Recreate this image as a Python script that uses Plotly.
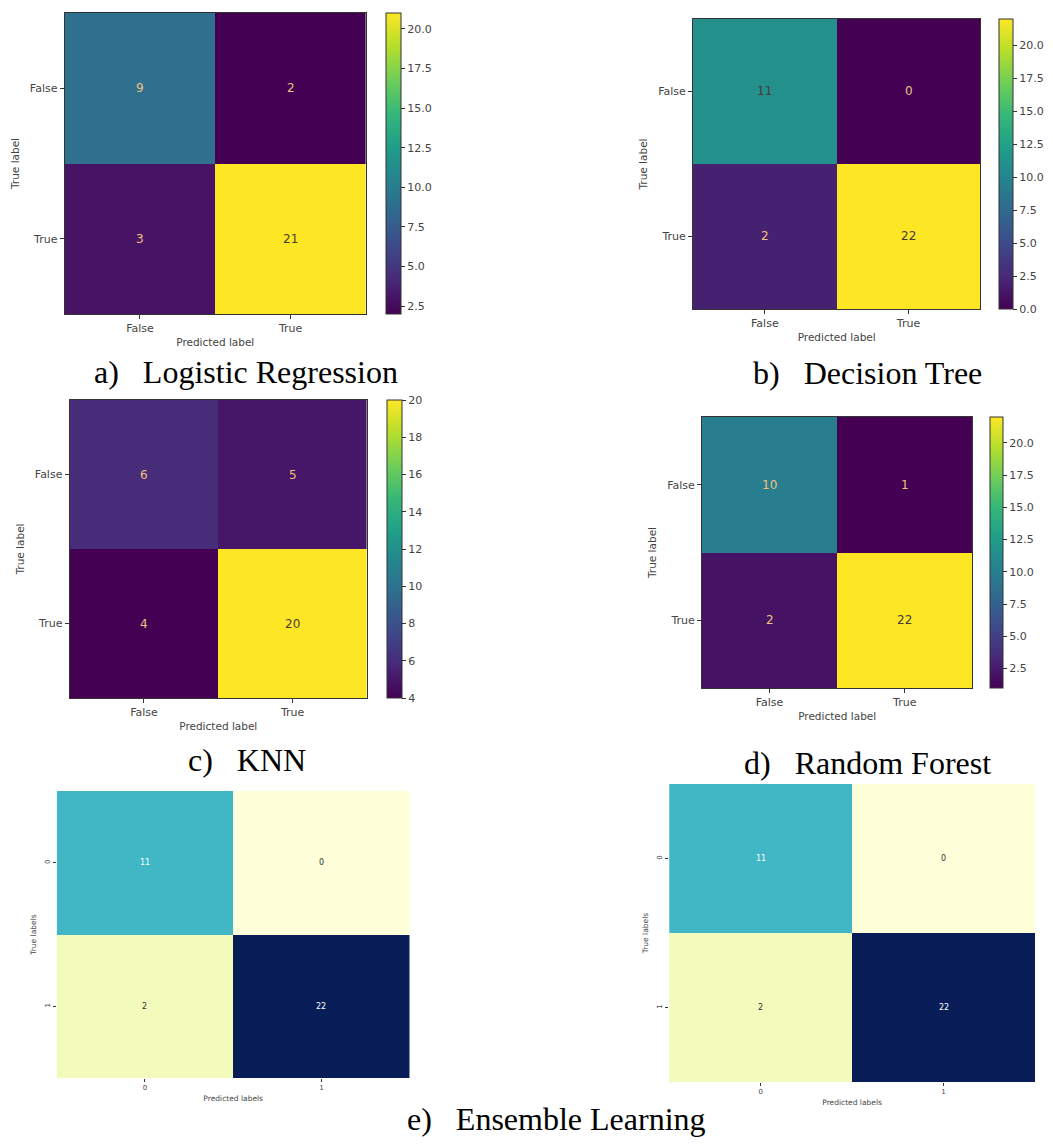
import plotly.graph_objects as go
import plotly.colors as pc

W, H = 1053, 1147          # browser window
OFF = 8                    # default page margin around the plot div
FW, FH = W - 2 * OFF, H - 2 * OFF

# ---------------- data ----------------
labels_tf = ["False", "True"]
labels_01 = ["0", "1"]

cm_logreg = [[9, 2], [3, 21]]
cm_tree = [[11, 0], [2, 22]]
cm_knn = [[6, 5], [4, 20]]
cm_forest = [[10, 1], [2, 22]]
cm_ens_a = [[11, 0], [2, 22]]
cm_ens_b = [[11, 0], [2, 22]]

captions = ["a)\u2002 Logistic Regression", "b)\u2002 Decision Tree",
            "c)\u2002 KNN", "d)\u2002 Random Forest", "e)\u2002 Ensemble Learning"]

# ---------------- layout (pixel boxes in window coordinates) ----------------
panels = [
    dict(z=cm_logreg, kind="skl", hx=(65, 368), hy=(13, 314), cb=(388, 403), dtick=2.5, fmt=".1f"),
    dict(z=cm_tree, kind="skl", hx=(697, 986), hy=(19, 309), cb=(1005, 1019), dtick=2.5, fmt=".1f"),
    dict(z=cm_knn, kind="skl", hx=(70, 369), hy=(400, 698), cb=(389, 404), dtick=2, fmt="d"),
    dict(z=cm_forest, kind="skl", hx=(706, 978), hy=(417, 688), cb=(996, 1009), dtick=2.5, fmt=".1f"),
    dict(z=cm_ens_a, kind="sns", hx=(57, 412), hy=(791, 1078)),
    dict(z=cm_ens_b, kind="sns", hx=(673, 1041), hy=(784, 1082)),
]
# (center x, center y, anchor)
caption_pos = [(247, 372, "middle"), (873, 373, "middle"), (248, 760, "middle"),
               (873, 763, "middle"), (560, H - OFF, "bottom")]


def PX(px):
    return (px - OFF) / FW


def PY(py):
    return 1 - (py - OFF) / FH


viridis = pc.sequential.Viridis
ylgnbu = pc.sequential.YlGnBu

FONT = "DejaVu Sans"
TXT = "#444444"

fig = go.Figure()
layout = dict(width=FW, height=FH, margin=dict(l=0, r=0, t=0, b=0),
              paper_bgcolor="white", plot_bgcolor="white", showlegend=False)
annotations = []

for i, p in enumerate(panels):
    n = i + 1
    xa = "x" if n == 1 else f"x{n}"
    ya = "y" if n == 1 else f"y{n}"
    z = p["z"]
    flat = [v for row in z for v in row]
    zmin, zmax = min(flat), max(flat)
    skl = p["kind"] == "skl"
    x0, x1 = p["hx"]
    y0, y1 = p["hy"]

    if skl:
        cb0, cb1 = p["cb"]
        trace = go.Heatmap(
            z=z, x=[0, 1], y=[0, 1], xaxis=xa, yaxis=ya,
            colorscale=viridis, zmin=zmin, zmax=zmax, showscale=True,
            hoverinfo="skip",
            colorbar=dict(
                x=PX(cb0), xanchor="left", xpad=0, ypad=0,
                y=(PY(y0) + PY(y1)) / 2, yanchor="middle",
                len=(y1 - y0) / FH, lenmode="fraction",
                thickness=cb1 - cb0, thicknessmode="pixels",
                outlinewidth=1, outlinecolor="#333333",
                ticks="outside", ticklen=4, tickcolor="#333333",
                tick0=0, dtick=p["dtick"], tickformat=p["fmt"],
                tickfont=dict(family=FONT, size=11, color=TXT),
            ),
        )
    else:
        trace = go.Heatmap(
            z=z, x=[0, 1], y=[0, 1], xaxis=xa, yaxis=ya,
            colorscale=ylgnbu, zmin=zmin, zmax=zmax, showscale=False,
            hoverinfo="skip",
        )
    fig.add_trace(trace)

    tick_labels = labels_tf if skl else labels_01
    fsz = 10 if skl else 7
    axis_common = dict(
        range=[-0.5, 1.5], tickmode="array", tickvals=[0, 1], ticktext=tick_labels,
        ticks="outside", ticklen=4 if skl else 3, tickcolor="#333333", tickwidth=1,
        showgrid=False, zeroline=False,
        showline=skl, mirror=skl, linecolor="#333333", linewidth=1,
        tickfont=dict(family=FONT, size=fsz + 1 if skl else fsz, color=TXT),
        fixedrange=True,
    )
    xkey = "xaxis" if n == 1 else f"xaxis{n}"
    ykey = "yaxis" if n == 1 else f"yaxis{n}"
    layout[xkey] = dict(
        axis_common, domain=[PX(x0), PX(x1)], anchor=ya,
        title=dict(text="Predicted label" if skl else "Predicted labels",
                   font=dict(family=FONT, size=fsz + 0.5, color=TXT), standoff=4),
    )
    layout[ykey] = dict(
        axis_common, domain=[PY(y1), PY(y0)], anchor=xa,
        range=[1.5, -0.5],
        tickangle=0 if skl else -90,
        title=dict(text="True label" if skl else "True labels",
                   font=dict(family=FONT, size=fsz + 0.5, color=TXT),
                   standoff=8 if skl else 6),
    )

    # cell value annotations
    thresh = (zmin + zmax) / 2
    for r in range(2):
        for c in range(2):
            v = z[r][c]
            if skl:
                col = "#f1c27e" if v < thresh else "#4a3b3b"
                size = 12
            else:
                col = "#ffffff" if v / zmax > 0.4 else "#333333"
                size = 8
            annotations.append(dict(
                x=c, y=r, xref=xa, yref=ya, text=str(v), showarrow=False,
                font=dict(family=FONT, size=size, color=col),
            ))

for text, (cx, cy, anc) in zip(captions, caption_pos):
    annotations.append(dict(
        x=PX(cx), y=PY(cy), xref="paper", yref="paper", text=text,
        showarrow=False, xanchor="center", yanchor=anc,
        font=dict(family="Liberation Serif", size=32, color="#000000"),
    ))

layout["annotations"] = annotations
fig.update_layout(**layout)
fig.write_html("out.html")
